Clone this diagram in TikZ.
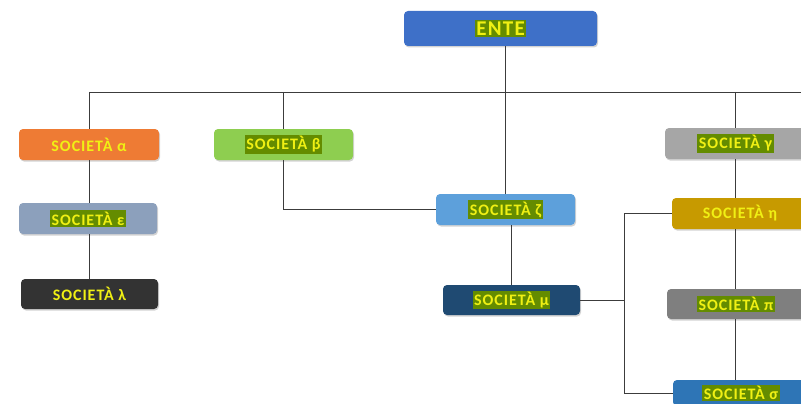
\documentclass[tikz,border=0pt]{standalone}
\usepackage{fontspec}
\setmainfont{Carlito}
\newfontfamily\widefont[LetterSpace=6]{Carlito}
\usetikzlibrary{shadows}
\definecolor{enteblue}{RGB}{62,112,200}
\definecolor{corange}{RGB}{238,123,52}
\definecolor{cgreyblue}{RGB}{140,160,188}
\definecolor{cdark}{RGB}{51,51,51}
\definecolor{cgreen}{RGB}{142,206,80}
\definecolor{clblue}{RGB}{93,160,219}
\definecolor{cnavy}{RGB}{31,74,114}
\definecolor{clgrey}{RGB}{166,166,166}
\definecolor{cgold}{RGB}{199,154,0}
\definecolor{cgrey}{RGB}{127,127,127}
\definecolor{cblue}{RGB}{46,117,182}
\definecolor{hlgreen}{RGB}{100,140,0}
\definecolor{txtyellow}{RGB}{240,240,20}
\definecolor{linegrey}{RGB}{60,60,60}
\newcommand\hlt[1]{{\setlength\fboxsep{1.5pt}\colorbox{hlgreen}{#1}}}
\tikzset{
  box/.style={rectangle, rounded corners=4pt, text=txtyellow, font=\widefont\bfseries\fontsize{16}{18}\selectfont,
    drop shadow={opacity=0.35, shadow xshift=1pt, shadow yshift=-1.5pt}, inner sep=0pt},
  link/.style={draw=linegrey, line width=0.8pt},
}
\begin{document}
\begin{tikzpicture}[x=1pt,y=-1pt]
\useasboundingbox (0,0) rectangle (801,404);
\coordinate (bar) at (0,92);
\node[box, fill=enteblue, minimum width=193pt, minimum height=35pt, font=\widefont\bfseries\fontsize{21}{24}\selectfont] (ente) at (500.5,28.5) {\hlt{ENTE}};
\node[box, fill=corange, minimum width=140pt, minimum height=31pt] (alpha) at (89,144.5) {SOCIETÀ α};
\node[box, fill=cgreyblue, minimum width=138pt, minimum height=31pt] (eps) at (88,218.5) {\hlt{SOCIETÀ ε}};
\node[box, fill=cdark, minimum width=137pt, minimum height=30pt] (lam) at (89.5,294) {SOCIETÀ λ};
\node[box, fill=cgreen, minimum width=139pt, minimum height=31pt] (beta) at (283.5,144.5) {\hlt{SOCIETÀ β}};
\node[box, fill=clblue, minimum width=139pt, minimum height=31pt] (zeta) at (505.5,209.5) {\hlt{SOCIETÀ ζ}};
\node[box, fill=cnavy, minimum width=137pt, minimum height=30pt] (mu) at (511.5,300) {\hlt{SOCIETÀ μ}};
\node[box, fill=clgrey, minimum width=141pt, minimum height=31pt] (gamma) at (735.5,143.5) {\hlt{SOCIETÀ γ}};
\node[box, fill=cgold, minimum width=136pt, minimum height=31pt] (eta) at (740,213.5) {SOCIETÀ η};
\node[box, fill=cgrey, minimum width=138pt, minimum height=30pt] (pi) at (736,304) {\hlt{SOCIETÀ π}};
\node[box, fill=cblue, minimum width=136pt, minimum height=26pt] (sigma) at (741,393) {\hlt{SOCIETÀ σ}};
\coordinate (barL) at (alpha.north |- bar);
\coordinate (barR) at (801,92);
\coordinate (bus) at (624,300);
\draw[link] (barL) -- (barR);
\draw[link] (zeta.north |- ente.south) -- (zeta.north);
\draw[link] (barL) -- (alpha.north);
\draw[link] (beta.north |- bar) -- (beta.north);
\draw[link] (gamma.north |- bar) -- (gamma.north);
\draw[link] (alpha.south) -- (alpha.south |- eps.north);
\draw[link] (alpha.south |- eps.south) -- (alpha.south |- lam.north);
\draw[link] (beta.south) |- (zeta.west);
\draw[link] (zeta.south -| mu.north) -- (mu.north);
\draw[link] (mu.east) -- (bus);
\draw[link] (eta.west) -| (bus);
\draw[link] (sigma.west) -| (bus);
\draw[link] (gamma.south) -- (gamma.south |- eta.north);
\draw[link] (gamma.south |- eta.south) -- (gamma.south |- pi.north);
\draw[link] (gamma.south |- pi.south) -- (gamma.south |- sigma.north);
\end{tikzpicture}
\end{document}
